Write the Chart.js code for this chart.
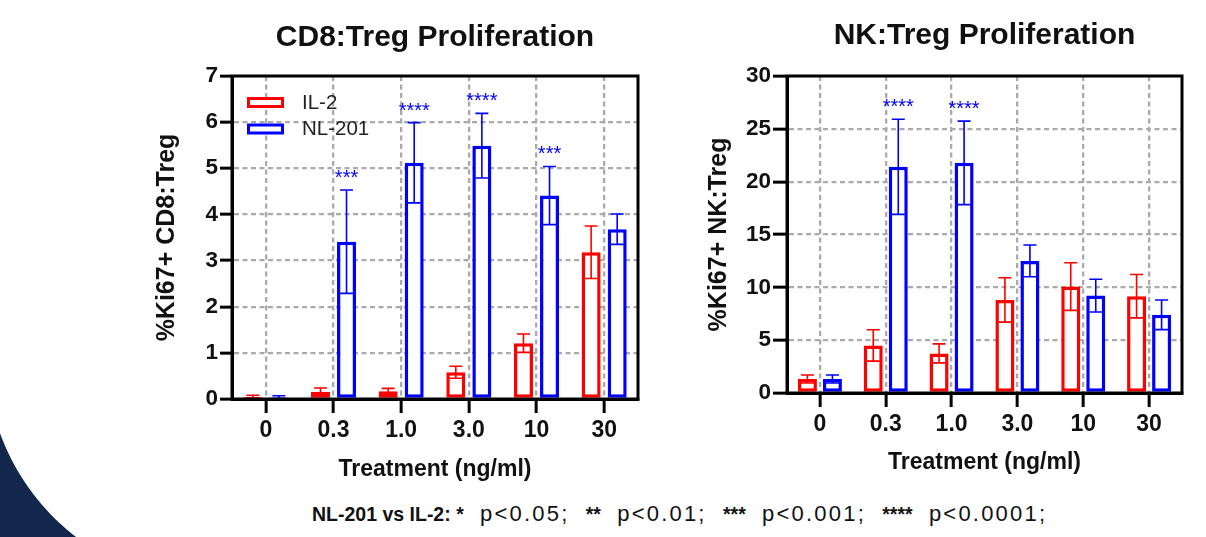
<!DOCTYPE html>
<html>
<head>
<meta charset="utf-8">
<script src="https://cdn.jsdelivr.net/npm/chart.js@4.4.1/dist/chart.umd.min.js"></script>
<style>
  html, body { margin: 0; padding: 0; background: #fff; }
  body { width: 1206px; height: 537px; position: relative; overflow: hidden;
         font-family: 'Liberation Sans', Arial, sans-serif; }
  #corner { position: absolute; left: 0; top: 380px; width: 130px; height: 157px;
            background: radial-gradient(circle 231px at 217px -26px, #fff 230.5px, #13264b 231.5px); }
  #cd8 { position: absolute; left: 0; top: 0; }
  #nk { position: absolute; left: 650px; top: 0; }
  #note { position: absolute; left: 312px; top: 502px; font-size: 22px; line-height: 24px;
          color: #111; white-space: nowrap; letter-spacing: 2.2px; word-spacing: 8px; }
  #note b { font-size: 19.5px; letter-spacing: 0; word-spacing: 0; }
</style>
</head>
<body>
<div id="corner"></div>
<canvas id="cd8" width="700" height="500"></canvas>
<canvas id="nk" width="556" height="500"></canvas>
<div id="note"><b>NL-201 vs IL-2: *</b> p&lt;0.05; <b>**</b> p&lt;0.01; <b>***</b> p&lt;0.001; <b>****</b> p&lt;0.0001;</div>

<script>
const doses = ['0', '0.3', '1.0', '3.0', '10', '30'];

// CD8:Treg (% Ki67+), mean and error
const cd8IL2 = [0.05, 0.15, 0.17, 0.58, 1.21, 3.18];
const cd8IL2Err = [0.03, 0.09, 0.06, 0.13, 0.20, 0.57];
const cd8NL201 = [0.04, 3.41, 5.12, 5.49, 4.41, 3.68];
const cd8NL201Err = [0.03, 1.12, 0.87, 0.70, 0.63, 0.33];
const cd8Stars = ['', '***', '****', '****', '***', ''];

// NK:Treg (% Ki67+)
const nkIL2 = [1.32, 4.5, 3.75, 8.81, 10.07, 9.16];
const nkIL2Err = [0.38, 1.48, 0.9, 2.1, 2.25, 2.05];
const nkNL201 = [1.32, 21.4, 21.78, 12.5, 9.22, 7.4];
const nkNL201Err = [0.38, 4.5, 3.95, 1.5, 1.55, 1.4];
const nkStars = ['', '****', '****', '', '', ''];

const RED = '#ff0000';
const BLUE = '#0000ff';
const FONT = "'Liberation Sans', Arial, sans-serif";

// error bars, significance stars and the box frame
const errorBars = {
  id: 'errorBars',
  afterDatasetsDraw(chart) {
    const ctx = chart.ctx;
    const y = chart.scales.y;
    chart.data.datasets.forEach((ds, i) => {
      const meta = chart.getDatasetMeta(i);
      meta.data.forEach((bar, j) => {
        const v = ds.data[j], e = ds.errors[j];
        const top = y.getPixelForValue(v + e);
        const bot = y.getPixelForValue(Math.max(v - e, 0));
        ctx.save();
        ctx.strokeStyle = ds.borderColor;
        ctx.lineWidth = 1.6;
        ctx.beginPath();
        ctx.moveTo(bar.x, top); ctx.lineTo(bar.x, bot);
        ctx.moveTo(bar.x - 6.5, top); ctx.lineTo(bar.x + 6.5, top);
        ctx.moveTo(bar.x - 6.5, bot); ctx.lineTo(bar.x + 6.5, bot);
        ctx.stroke();
        if (ds.stars && ds.stars[j]) {
          ctx.fillStyle = ds.borderColor;
          ctx.font = '20px ' + FONT;
          ctx.textAlign = 'center';
          ctx.textBaseline = 'alphabetic';
          ctx.fillText(ds.stars[j], bar.x, top - 6);
        }
        ctx.restore();
      });
    });
    const a = chart.chartArea;
    ctx.save();
    ctx.strokeStyle = '#000';
    ctx.lineWidth = 3;
    ctx.strokeRect(a.left, a.top, a.right - a.left, a.bottom - a.top);
    ctx.restore();
  }
};

// open-box legend inside the plot
const boxLegend = {
  id: 'boxLegend',
  afterDraw(chart) {
    const ctx = chart.ctx;
    const a = chart.chartArea;
    ctx.save();
    chart.data.datasets.forEach((ds, i) => {
      ctx.strokeStyle = ds.borderColor;
      ctx.lineWidth = 3;
      ctx.fillStyle = '#fff';
      ctx.fillRect(a.left + 16.5, a.top + 22.5 + 26.5 * i, 34, 8);
      ctx.strokeRect(a.left + 16.5, a.top + 22.5 + 26.5 * i, 34, 8);
      ctx.fillStyle = '#222';
      ctx.font = '20.5px ' + FONT;
      ctx.textAlign = 'left';
      ctx.textBaseline = 'middle';
      ctx.fillText(ds.label, a.left + 70, a.top + 27 + 26.5 * i);
    });
    ctx.restore();
  }
};

function makeChart(id, cfg) {
  const datasets = [
    { label: 'IL-2', data: cfg.il2, errors: cfg.il2Err, borderColor: RED },
    { label: 'NL-201', data: cfg.nl, errors: cfg.nlErr, stars: cfg.stars, borderColor: BLUE }
  ].map(d => Object.assign(d, {
    backgroundColor: '#fff',
    borderWidth: 3.5,
    borderSkipped: false,
    categoryPercentage: cfg.catPct,
    barPercentage: cfg.barPct
  }));

  return new Chart(document.getElementById(id), {
    type: 'bar',
    data: { labels: doses, datasets: datasets },
    plugins: cfg.legend ? [errorBars, boxLegend] : [errorBars],
    options: {
      responsive: false,
      animation: false,
      devicePixelRatio: 1,
      layout: { padding: { left: cfg.padLeft, right: cfg.padRight, top: 0, bottom: 0 } },
      plugins: {
        legend: { display: false },
        tooltip: { enabled: false },
        title: {
          display: true,
          text: cfg.title,
          fullSize: false,
          color: '#111',
          font: { family: FONT, size: 30, weight: 'bold' },
          padding: { top: cfg.titleTop, bottom: 76 - cfg.titleTop - 36 }
        }
      },
      scales: {
        x: {
          afterFit: s => { s.height = cfg.xHeight; },
          grid: { offset: false, color: '#aaaaaa', lineWidth: 2.3, tickColor: '#000',
                  tickWidth: 3, tickLength: 14 },
          border: { color: '#000', width: 3, dash: [5, 3.5] },
          ticks: { color: '#111', padding: 4, font: { family: FONT, size: 23, weight: 'bold' } },
          title: { display: true, text: 'Treatment (ng/ml)', color: '#111',
                   padding: { top: 0, bottom: cfg.xTitleBottom },
                   font: { family: FONT, size: 23, weight: 'bold' } }
        },
        y: {
          min: 0, max: cfg.max,
          afterFit: s => { s.width = cfg.yWidth; },
          grid: { color: '#aaaaaa', lineWidth: 2.3, tickColor: '#000', tickWidth: 3,
                  tickLength: cfg.yTick },
          border: { color: '#000', width: 3, dash: [5, 3.5] },
          ticks: { stepSize: cfg.step, color: '#111', padding: 2,
                   font: { family: FONT, size: 22.5, weight: 'bold' } },
          title: { display: true, text: cfg.yTitle, color: '#111',
                   padding: { top: cfg.yTitleTop, bottom: 0 },
                   font: { family: FONT, size: 25, weight: 'bold' } }
        }
      }
    }
  });
}

makeChart('cd8', {
  title: 'CD8:Treg Proliferation', yTitle: '%Ki67+ CD8:Treg',
  il2: cd8IL2, il2Err: cd8IL2Err, nl: cd8NL201, nlErr: cd8NL201Err, stars: cd8Stars,
  max: 7, step: 1, legend: true,
  catPct: 0.77, barPct: 0.73,
  padLeft: 130, padRight: 62, yWidth: 102, yTick: 12, yTitleTop: 22,
  titleTop: 20, xHeight: 101, xTitleBottom: 17
});

makeChart('nk', {
  title: 'NK:Treg Proliferation', yTitle: '%Ki67+ NK:Treg',
  il2: nkIL2, il2Err: nkIL2Err, nl: nkNL201, nlErr: nkNL201Err, stars: nkStars,
  max: 30, step: 5, legend: false,
  catPct: 0.76, barPct: 0.76,
  padLeft: 30, padRight: 24, yWidth: 107, yTick: 14, yTitleTop: 24,
  titleTop: 18, xHeight: 107, xTitleBottom: 24
});
</script>
</body>
</html>
